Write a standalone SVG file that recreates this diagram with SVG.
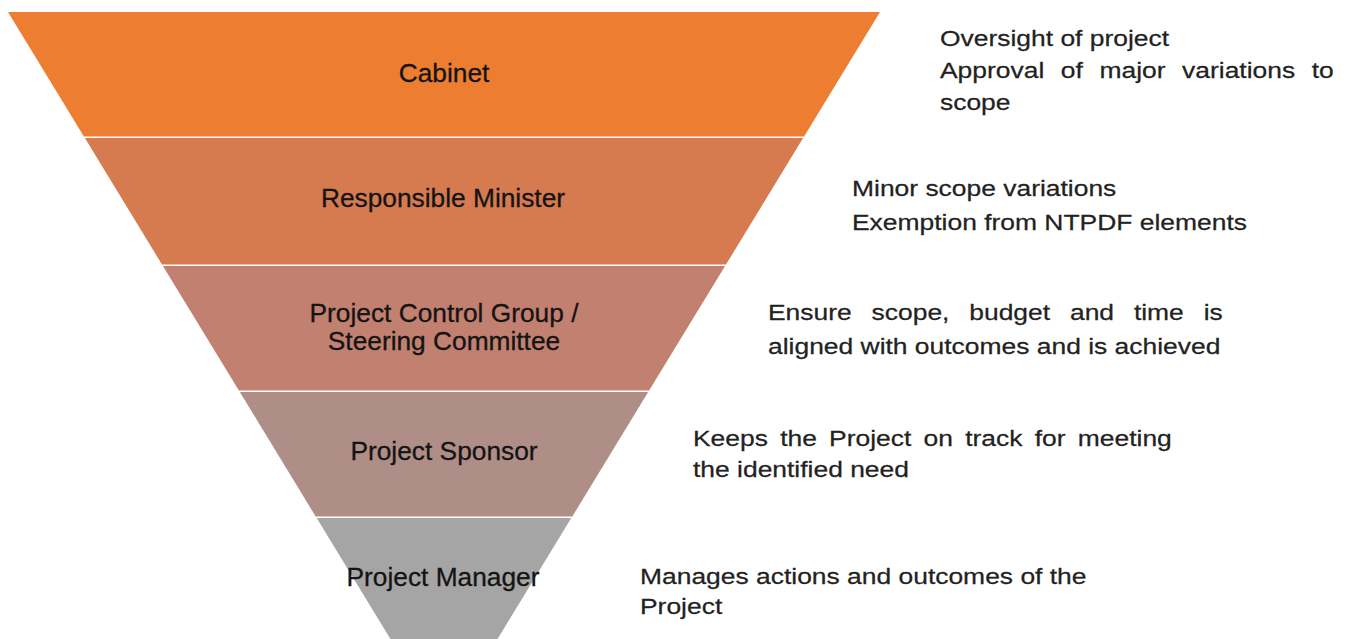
<svg xmlns="http://www.w3.org/2000/svg" width="1350" height="639" viewBox="0 0 1350 639">
  <style>
    .band-label { font-family: "Liberation Sans", Arial, sans-serif; font-size: 26.3px; fill: #141414; stroke: #141414; stroke-width: 0.3px; text-anchor: middle; }
    .note { font-family: "Liberation Sans", Arial, sans-serif; font-size: 22.5px; fill: #222222; stroke: #222222; stroke-width: 0.25px; }
  </style>
  <rect x="0" y="0" width="1350" height="639" fill="#ffffff"/>

  <!-- Inverted funnel: five stacked bands, widest at the top -->
  <g id="cabinet">
    <polygon points="8,12 880,12 804.1,136.5 83.9,136.5" fill="#ED7D31"/>
    <text class="band-label" x="444" y="82">Cabinet</text>
  </g>
  <g id="responsible-minister">
    <polygon points="84.9,138 803.1,138 726,264.5 162,264.5" fill="#D67A50"/>
    <text class="band-label" x="443" y="207">Responsible Minister</text>
  </g>
  <g id="project-control-group">
    <polygon points="162.9,266 725.1,266 649.1,390.5 238.9,390.5" fill="#C18070"/>
    <text class="band-label" x="444" y="321.5">Project Control Group /</text>
    <text class="band-label" x="444" y="349.5">Steering Committee</text>
  </g>
  <g id="project-sponsor">
    <polygon points="239.8,392 648.2,392 572.3,516.5 315.7,516.5" fill="#B08E88"/>
    <text class="band-label" x="444" y="460">Project Sponsor</text>
  </g>
  <g id="project-manager">
    <polygon points="316.7,518 571.3,518 493.9,645 394.1,645" fill="#A5A5A5"/>
    <text class="band-label" x="443" y="586">Project Manager</text>
  </g>

  <!-- Responsibilities beside each band -->
  <g id="cabinet-notes" transform="translate(940 0) scale(1.175 1)">
    <text class="note" x="0" y="46">Oversight of project</text>
    <text class="note" x="0" y="78" word-spacing="7.86">Approval of major variations to</text>
    <text class="note" x="0" y="110">scope</text>
  </g>
  <g id="minister-notes" transform="translate(852 0) scale(1.175 1)">
    <text class="note" x="0" y="196">Minor scope variations</text>
    <text class="note" x="0" y="230">Exemption from NTPDF elements</text>
  </g>
  <g id="control-group-notes" transform="translate(768 0) scale(1.175 1)">
    <text class="note" x="0" y="320" word-spacing="10.66">Ensure scope, budget and time is</text>
    <text class="note" x="0" y="354">aligned with outcomes and is achieved</text>
  </g>
  <g id="sponsor-notes" transform="translate(693 0) scale(1.175 1)">
    <text class="note" x="0" y="446" word-spacing="4.17">Keeps the Project on track for meeting</text>
    <text class="note" x="0" y="477">the identified need</text>
  </g>
  <g id="manager-notes" transform="translate(640 0) scale(1.175 1)">
    <text class="note" x="0" y="584">Manages actions and outcomes of the</text>
    <text class="note" x="0" y="614">Project</text>
  </g>
</svg>
